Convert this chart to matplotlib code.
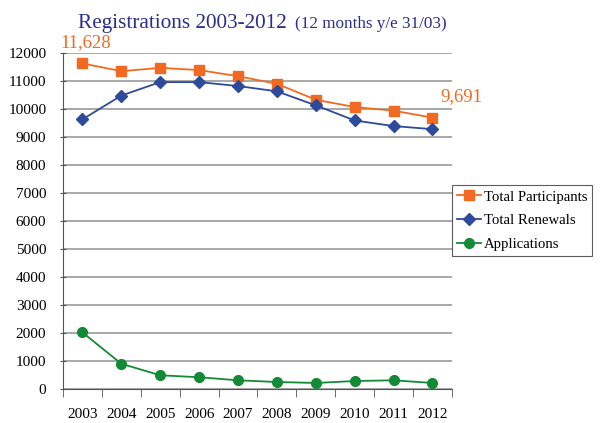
import matplotlib
matplotlib.use("Agg")
import matplotlib.pyplot as plt
import numpy as np

years = ["2003", "2004", "2005", "2006", "2007", "2008", "2009", "2010", "2011", "2012"]
participants = [11628, 11350, 11470, 11390, 11170, 10900, 10330, 10070, 9940, 9691]
renewals = [9630, 10480, 10960, 10960, 10820, 10630, 10130, 9590, 9390, 9280]
applications = [2020, 900, 490, 420, 310, 250, 215, 285, 310, 215]

orange = "#F26A22"
blue = "#2E4A9B"
green = "#138A36"
navy = "#2B2F8C"

plt.rcParams["font.family"] = ["Liberation Serif", "DejaVu Serif"]

fig = plt.figure(figsize=(6.02, 4.23), dpi=100)
ax = fig.add_axes([0.1047, 0.0804, 0.646, 0.7943])

x = np.arange(len(years))
ax.plot(x, participants, color=orange, marker="s", markersize=7, lw=1.3, label="Total Participants")
ax.plot(x, renewals, color=blue, marker="D", markersize=6, lw=1.3, label="Total Renewals")
ax.plot(x, applications, color=green, marker="o", markersize=7, lw=1.3, label="Applications")

ax.set_ylim(0, 12000)
ax.set_xlim(-0.5, len(years) - 0.5)
ax.set_yticks(np.arange(0, 12001, 1000))
ax.tick_params(axis="y", labelsize=11, length=4, direction="inout", color="#555555", pad=10)
ax.set_xticks(x)
ax.set_xticklabels(years, fontsize=11)
ax.set_xticks(np.arange(-0.5, len(years), 1), minor=True)
ax.tick_params(axis="x", which="major", length=0, pad=14)
ax.tick_params(axis="x", which="minor", length=6, color="#555555")
ax.grid(axis="y", color="#999999", lw=1.2)
ax.set_axisbelow(True)
for s in ["top", "right"]:
    ax.spines[s].set_visible(False)
ax.spines["left"].set_color("#555555")
ax.spines["bottom"].set_color("#555555")

ax.annotate(f"{participants[0]:,}", (x[0], participants[0]), xytext=(-16, 12),
            textcoords="offset points", color=orange, fontsize=13.5)
ax.annotate(f"{participants[-1]:,}", (x[-1], participants[-1]), xytext=(6, 12),
            textcoords="offset points", color=orange, fontsize=13.5)

fig.text(0.13, 0.934, "Registrations 2003-2012", color=navy, fontsize=15.3, va="baseline")
fig.text(0.49, 0.934, "(12 months y/e 31/03)", color=navy, fontsize=12.3, va="baseline")

leg = ax.legend(loc="upper left", bbox_to_anchor=(1.0, 0.607), fontsize=10.6, frameon=True,
                fancybox=False, edgecolor="#333333", handlelength=1.6, handletextpad=0.2,
                borderpad=0.35, labelspacing=0.7, borderaxespad=0)
leg.get_frame().set_linewidth(0.8)

fig.savefig("out.png", dpi=100)
